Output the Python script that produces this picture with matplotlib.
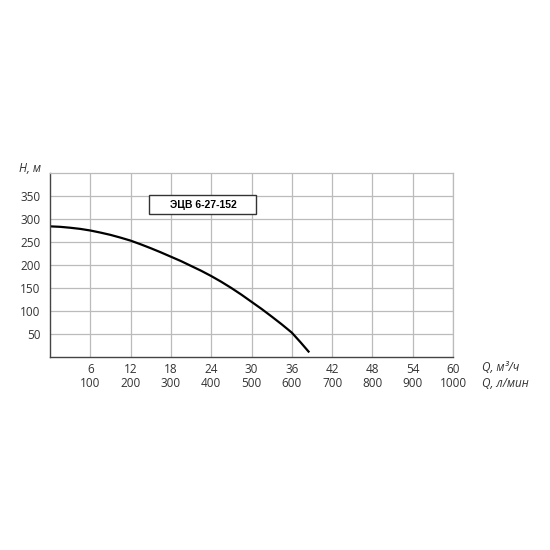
import matplotlib
matplotlib.use("Agg")
import matplotlib.pyplot as plt
from matplotlib.transforms import blended_transform_factory
from matplotlib.patches import Rectangle

q_ticks = [6, 12, 18, 24, 30, 36, 42, 48, 54, 60]
lmin_labels = ["100", "200", "300", "400", "500", "600", "700", "800", "900", "1000"]
h_ticks = [50, 100, 150, 200, 250, 300, 350]

curve_q = [0, 1.5, 3, 4.5, 6, 7.5, 9, 10.5, 12, 13.5, 15, 16.5, 18, 19.5, 21, 22.5,
           24, 25.5, 27, 28.5, 30, 31.5, 33, 34.5, 36, 37.3, 38.6]
curve_h = [284, 283, 281, 278.5, 275, 270.5, 265.5, 259.5, 253, 245, 236.5, 227.5, 218,
           208.5, 198, 187.5, 176, 163.5, 150, 135.5, 120, 104.5, 88, 71, 53, 32, 10]

title = "ЭЦВ 6-27-152"

plt.rcParams['font.family'] = ['Open Sans', 'DejaVu Sans']

fig = plt.figure(figsize=(5.5, 5.5), dpi=100)
ax = fig.add_axes([50/550, 1-357/550, 403/550, 184/550])
ax.set_xlim(0, 60)
ax.set_ylim(0, 400)

ax.set_xticks(q_ticks)
ax.set_yticks(h_ticks)
ax.set_xticklabels([str(v) for v in q_ticks])
ax.set_yticklabels([str(v) for v in h_ticks])
ax.tick_params(length=0, labelsize=8.5, colors="#333333", pad=4)
ax.tick_params(axis="y", pad=7)
ax.grid(True, color="#bbbbbb", linewidth=0.9)
ax.set_axisbelow(True)
for side in ["top", "right"]:
    ax.spines[side].set_color("#bbbbbb")
    ax.spines[side].set_linewidth(0.9)
for side in ["left", "bottom"]:
    ax.spines[side].set_color("#444444")
    ax.spines[side].set_linewidth(1.0)

ax.plot(curve_q, curve_h, color="black", linewidth=1.6, solid_capstyle="butt",
        solid_joinstyle="round")

trans = blended_transform_factory(ax.transData, ax.transAxes)
for q, lab in zip(q_ticks, lmin_labels):
    ax.text(q, -0.145, lab, transform=trans, ha="center", va="center",
            fontsize=8.5, color="#333333")

ax.text(1.072, -0.055, "Q, м³/ч", transform=ax.transAxes, ha="left", va="center",
        fontsize=8.5, style="italic", color="#333333")
ax.text(1.072, -0.145, "Q, л/мин", transform=ax.transAxes, ha="left", va="center",
        fontsize=8.5, style="italic", color="#333333")
ax.text(-0.05, 1.027, "H, м", transform=ax.transAxes, ha="center", va="center",
        fontsize=8.5, style="italic", color="#333333")

ax.add_patch(Rectangle((14.7, 311), 16.0, 41, facecolor="white", edgecolor="#333333",
                       linewidth=1.0, zorder=3))
ax.text(22.8, 331.5, title, ha="center", va="center", fontsize=7.5, fontweight="bold",
        family=["Liberation Sans", "DejaVu Sans"], color="black", zorder=4)

fig.savefig("out.png", dpi=100, facecolor="white")
